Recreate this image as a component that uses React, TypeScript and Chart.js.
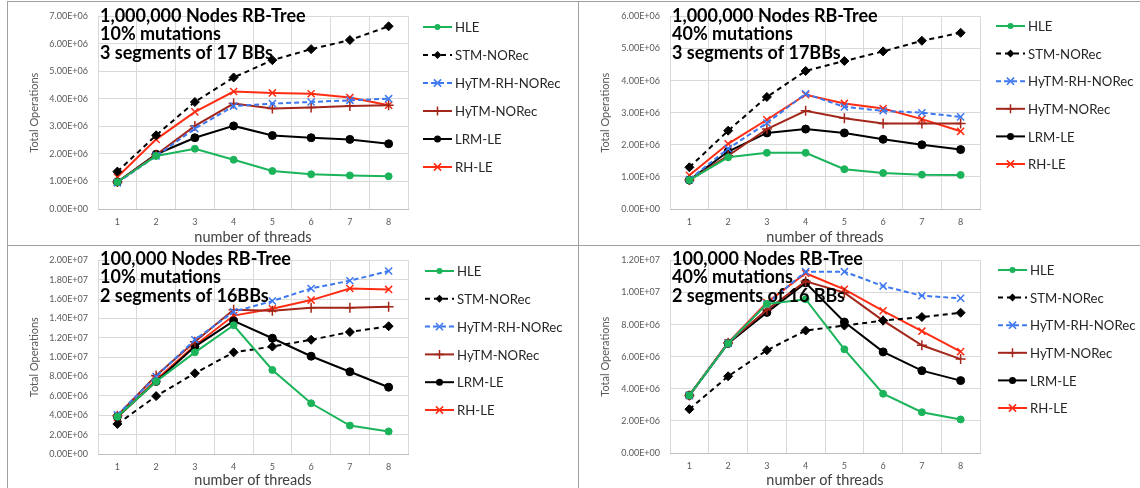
import React, { useEffect, useRef } from 'react';
import { Chart, registerables } from 'chart.js';
Chart.register(...registerables);

const threads = ['1', '2', '3', '4', '5', '6', '7', '8'];
const seriesNames = ['HLE', 'STM-NORec', 'HyTM-RH-NORec', 'HyTM-NORec', 'LRM-LE', 'RH-LE'];

// Panel A: 1,000,000 nodes, 10% mutations
const a_HLE = [0.98e6, 1.93e6, 2.19e6, 1.79e6, 1.38e6, 1.26e6, 1.22e6, 1.19e6];
const a_STM = [1.36e6, 2.68e6, 3.89e6, 4.78e6, 5.41e6, 5.81e6, 6.14e6, 6.64e6];
const a_HyRH = [0.95e6, 1.93e6, 2.92e6, 3.74e6, 3.83e6, 3.89e6, 3.95e6, 4.01e6];
const a_HyNO = [0.98e6, 1.97e6, 3.02e6, 3.83e6, 3.65e6, 3.69e6, 3.74e6, 3.77e6];
const a_LRM = [0.98e6, 1.99e6, 2.59e6, 3.02e6, 2.67e6, 2.59e6, 2.53e6, 2.37e6];
const a_RH = [1.16e6, 2.53e6, 3.53e6, 4.27e6, 4.22e6, 4.19e6, 4.05e6, 3.77e6];

// Panel B: 1,000,000 nodes, 40% mutations
const b_HLE = [0.9e6, 1.61e6, 1.75e6, 1.75e6, 1.24e6, 1.12e6, 1.07e6, 1.06e6];
const b_STM = [1.3e6, 2.44e6, 3.49e6, 4.3e6, 4.61e6, 4.91e6, 5.24e6, 5.49e6];
const b_HyRH = [0.92e6, 1.88e6, 2.68e6, 3.59e6, 3.18e6, 3.06e6, 3.0e6, 2.87e6];
const b_HyNO = [0.9e6, 1.66e6, 2.49e6, 3.06e6, 2.83e6, 2.66e6, 2.66e6, 2.66e6];
const b_LRM = [0.9e6, 1.79e6, 2.37e6, 2.49e6, 2.37e6, 2.17e6, 2.0e6, 1.85e6];
const b_RH = [1.05e6, 2.03e6, 2.78e6, 3.56e6, 3.29e6, 3.13e6, 2.8e6, 2.42e6];

// Panel C: 100,000 nodes, 10% mutations
const c_HLE = [3.85e6, 7.5e6, 10.5e6, 13.3e6, 8.68e6, 5.24e6, 2.94e6, 2.33e6];
const c_STM = [3.1e6, 5.98e6, 8.34e6, 10.5e6, 11.1e6, 11.8e6, 12.6e6, 13.2e6];
const c_HyRH = [4.05e6, 8.0e6, 11.8e6, 14.7e6, 15.8e6, 17.1e6, 17.9e6, 18.9e6];
const c_HyNO = [3.95e6, 8.1e6, 11.6e6, 14.9e6, 14.8e6, 15.1e6, 15.1e6, 15.2e6];
const c_LRM = [3.85e6, 7.5e6, 11.1e6, 13.75e6, 11.96e6, 10.1e6, 8.5e6, 6.9e6];
const c_RH = [3.78e6, 7.67e6, 11.2e6, 14.3e6, 15.0e6, 15.9e6, 17.1e6, 17.0e6];

// Panel D: 100,000 nodes, 40% mutations
const d_HLE = [3.59e6, 6.83e6, 9.29e6, 9.58e6, 6.46e6, 3.69e6, 2.54e6, 2.09e6];
const d_STM = [2.73e6, 4.78e6, 6.4e6, 7.63e6, 7.94e6, 8.25e6, 8.47e6, 8.74e6];
const d_HyRH = [3.59e6, 6.83e6, 9.29e6, 11.3e6, 11.3e6, 10.4e6, 9.8e6, 9.64e6];
const d_HyNO = [3.59e6, 6.87e6, 8.92e6, 10.7e6, 9.99e6, 8.25e6, 6.71e6, 5.85e6];
const d_LRM = [3.59e6, 6.83e6, 8.76e6, 10.6e6, 8.16e6, 6.3e6, 5.13e6, 4.51e6];
const d_RH = [3.59e6, 6.87e6, 9.37e6, 11.2e6, 10.2e6, 8.86e6, 7.59e6, 6.32e6];

const titleA = ['1,000,000 Nodes RB-Tree', '10% mutations', '3 segments of 17 BBs'];
const titleB = ['1,000,000 Nodes RB-Tree', '40% mutations', '3 segments of 17BBs'];
const titleC = ['100,000 Nodes RB-Tree', '10% mutations', '2 segments of 16BBs'];
const titleD = ['100,000 Nodes RB-Tree', '40% mutations', '2 segments of 16 BBs'];

const yMaxes = [7e6, 6e6, 2e7, 1.2e7];
const ySteps = [1e6, 1e6, 2e6, 2e6];

const FONT = 'Lato, "Liberation Sans", sans-serif';

type Style = { color: string; dash: number[]; point: string; radius: number; legendRadius: number };
const styles: Style[] = [
  { color: '#1bb45a', dash: [], point: 'circle', radius: 3.5, legendRadius: 3 },
  { color: '#000000', dash: [5, 4], point: 'rectRot', radius: 4.5, legendRadius: 4 },
  { color: '#3d78f0', dash: [5, 3], point: 'crossRot', radius: 5, legendRadius: 4.5 },
  { color: '#a3261a', dash: [], point: 'cross', radius: 5, legendRadius: 4.5 },
  { color: '#000000', dash: [], point: 'circle', radius: 4, legendRadius: 3.5 },
  { color: '#ff2d14', dash: [], point: 'crossRot', radius: 5, legendRadius: 4.5 },
];

type Panel = {
  left: number; top: number; w: number; h: number;
  area: { l: number; r: number; t: number; b: number };
  series: number[][]; title: string[]; yMax: number; yStep: number;
  legend: { x: number; y0: number; dy: number };
  titlePos: { x: number; y: number };
};

const panels: Panel[] = [
  { left: 7, top: 1, w: 571, h: 244, area: { l: 91, r: 401, t: 12, b: 208 },
    series: [a_HLE, a_STM, a_HyRH, a_HyNO, a_LRM, a_RH], title: titleA, yMax: yMaxes[0], yStep: ySteps[0],
    legend: { x: 416, y0: 26, dy: 28 }, titlePos: { x: 93, y: 15 } },
  { left: 578, top: 1, w: 562, h: 244, area: { l: 92, r: 402, t: 12, b: 208 },
    series: [b_HLE, b_STM, b_HyRH, b_HyNO, b_LRM, b_RH], title: titleB, yMax: yMaxes[1], yStep: ySteps[1],
    legend: { x: 418, y0: 25, dy: 27.6 }, titlePos: { x: 94, y: 15 } },
  { left: 7, top: 245, w: 571, h: 243, area: { l: 91, r: 401, t: 11, b: 209 },
    series: [c_HLE, c_STM, c_HyRH, c_HyNO, c_LRM, c_RH], title: titleC, yMax: yMaxes[2], yStep: ySteps[2],
    legend: { x: 418, y0: 26, dy: 27.8 }, titlePos: { x: 93, y: 14 } },
  { left: 578, top: 245, w: 562, h: 243, area: { l: 92, r: 402, t: 13, b: 208 },
    series: [d_HLE, d_STM, d_HyRH, d_HyNO, d_LRM, d_RH], title: titleD, yMax: yMaxes[3], yStep: ySteps[3],
    legend: { x: 420, y0: 25, dy: 27.6 }, titlePos: { x: 94, y: 14 } },
];

function fmtE(v: number): string {
  if (v === 0) return '0.00E+00';
  const e = Math.floor(Math.log10(Math.abs(v)) + 1e-9);
  const m = v / Math.pow(10, e);
  return m.toFixed(2) + 'E' + (e >= 0 ? '+' : '-') + String(Math.abs(e)).padStart(2, '0');
}

function drawMarker(ctx: CanvasRenderingContext2D, kind: string, x: number, y: number, r: number, color: string) {
  ctx.save();
  ctx.setLineDash([]);
  ctx.fillStyle = color;
  ctx.strokeStyle = color;
  ctx.lineWidth = 1.5;
  ctx.beginPath();
  if (kind === 'circle') {
    ctx.arc(x, y, r, 0, Math.PI * 2);
    ctx.fill();
  } else if (kind === 'rectRot') {
    ctx.moveTo(x, y - r); ctx.lineTo(x + r, y); ctx.lineTo(x, y + r); ctx.lineTo(x - r, y); ctx.closePath();
    ctx.fill();
  } else if (kind === 'cross') {
    ctx.moveTo(x, y - r); ctx.lineTo(x, y + r); ctx.moveTo(x - r, y); ctx.lineTo(x + r, y);
    ctx.stroke();
  } else {
    const d = r * 0.8;
    ctx.moveTo(x - d, y - d); ctx.lineTo(x + d, y + d); ctx.moveTo(x - d, y + d); ctx.lineTo(x + d, y - d);
    ctx.stroke();
  }
  ctx.restore();
}

const decorPlugin = {
  id: 'decor',
  afterDatasetsDraw(chart: any, _args: any, opts: any) {
    const ctx: CanvasRenderingContext2D = chart.ctx;
    const p: Panel = opts.panel;
    // title lines over plot
    ctx.save();
    ctx.font = `bold 18px ${FONT}`;
    ctx.fillStyle = '#000000';
    ctx.textBaseline = 'middle';
    ctx.textAlign = 'left';
    p.title.forEach((line, i) => ctx.fillText(line, p.titlePos.x, p.titlePos.y + i * 18.5));
    ctx.restore();
    // legend
    ctx.save();
    seriesNames.forEach((name, i) => {
      const s = styles[i];
      const y = p.legend.y0 + i * p.legend.dy;
      const x = p.legend.x;
      ctx.save();
      ctx.strokeStyle = s.color;
      ctx.lineWidth = 2;
      ctx.setLineDash(s.dash);
      ctx.beginPath();
      ctx.moveTo(x, y);
      ctx.lineTo(x + 29, y);
      ctx.stroke();
      ctx.restore();
      drawMarker(ctx, s.point, x + 14.5, y, s.legendRadius, s.color);
      ctx.font = `13.2px ${FONT}`;
      ctx.fillStyle = '#262626';
      ctx.textBaseline = 'middle';
      ctx.textAlign = 'left';
      ctx.fillText(name, x + 32, y + 1);
    });
    ctx.restore();
  },
};

function PanelChart({ p }: { p: Panel }) {
  const ref = useRef<HTMLCanvasElement | null>(null);
  useEffect(() => {
    if (!ref.current) return;
    const chart = new Chart(ref.current, {
      type: 'line',
      data: {
        labels: threads,
        datasets: p.series.map((vals, i) => {
          const s = styles[i];
          return {
            label: seriesNames[i],
            data: vals,
            borderColor: s.color,
            backgroundColor: s.color,
            borderWidth: 2,
            borderDash: s.dash,
            pointStyle: s.point as any,
            pointRadius: s.radius,
            pointBorderWidth: s.point === 'cross' || s.point === 'crossRot' ? 1.5 : 1,
            pointBackgroundColor: s.color,
            pointBorderColor: s.color,
            tension: 0,
          };
        }),
      },
      options: {
        responsive: false,
        animation: false,
        devicePixelRatio: 1,
        layout: { padding: { left: 0, top: p.area.t, right: p.w - p.area.r, bottom: 0 } },
        plugins: {
          legend: { display: false },
          tooltip: { enabled: false },
          decor: { panel: p },
        } as any,
        scales: {
          x: {
            offset: true,
            grid: { offset: true, color: '#d9d9d9', drawTicks: false },
            border: { color: '#bfbfbf' },
            ticks: { padding: 8, font: { family: FONT, size: 9 }, color: '#595959', maxRotation: 0 },
            title: { display: true, text: 'number of threads', font: { family: FONT, size: 14.5, lineHeight: 1 }, color: '#404040', padding: 0 },
            afterFit: (s: any) => { s.height = p.h - p.area.b; },
          },
          y: {
            min: 0,
            max: p.yMax,
            ticks: { stepSize: p.yStep, callback: (v: any) => fmtE(Number(v)), padding: 10, font: { family: FONT, size: 9 }, color: '#595959' },
            grid: { color: '#d9d9d9', drawTicks: false },
            border: { display: false },
            title: { display: true, text: 'Total Operations', font: { family: FONT, size: 11, lineHeight: 1 }, color: '#595959', padding: { top: 22, bottom: 0 } },
            afterFit: (s: any) => { s.width = p.area.l; },
          },
        },
      } as any,
      plugins: [decorPlugin],
    });
    return () => chart.destroy();
  }, [p]);
  return (
    <canvas
      ref={ref}
      width={p.w}
      height={p.h}
      style={{ position: 'absolute', left: p.left, top: p.top, width: p.w, height: p.h }}
    />
  );
}

export default function App() {
  const line = '#a0a0a0';
  return (
    <div style={{ position: 'absolute', left: 0, top: 0, width: 1140, height: 488, background: '#ffffff', overflow: 'hidden' }}>
      {panels.map((p, i) => <PanelChart key={i} p={p} />)}
      <div style={{ position: 'absolute', left: 7, top: 1, width: 1133, height: 1, background: line }} />
      <div style={{ position: 'absolute', left: 7, top: 1, width: 1, height: 487, background: line }} />
      <div style={{ position: 'absolute', left: 578, top: 1, width: 1, height: 487, background: line }} />
      <div style={{ position: 'absolute', left: 7, top: 245, width: 1133, height: 1, background: line }} />
    </div>
  );
}
